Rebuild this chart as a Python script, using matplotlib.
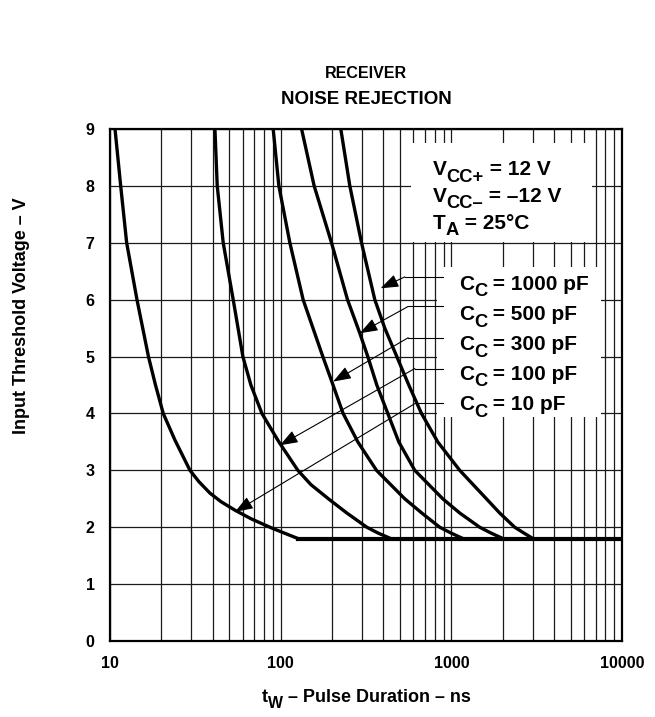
import matplotlib
matplotlib.use("Agg")
import matplotlib.pyplot as plt
from matplotlib.ticker import FixedLocator, NullFormatter
from matplotlib.patches import Rectangle
from matplotlib.transforms import IdentityTransform

plt.rcParams['font.family'] = ['Liberation Sans', 'DejaVu Sans']
plt.rcParams['font.weight'] = 'bold'

# ---------------- data (pulse duration ns, threshold V) ----------------
cc10_t = [10.70, 11.55, 12.52, 14.39, 16.80, 18.47, 20.51, 24.03, 29.41, 33.20, 38.50,
          44.66, 53.93, 66.92, 86.47, 104.4, 126.6]
cc10_v = [9.0, 8.0, 7.0, 6.0, 5.0, 4.5, 4.0, 3.53, 3.0, 2.8, 2.6, 2.45, 2.3, 2.15, 2.0,
          1.9, 1.8]

cc100_t = [41.19, 42.49, 46.06, 52.71, 60.06, 66.92, 77.64, 97.6, 126.1, 150.2, 194.1,
           244.1, 319.7, 370.7, 441.8]
cc100_v = [9.0, 8.0, 7.0, 6.0, 5.0, 4.5, 4.0, 3.5, 3.0, 2.75, 2.48, 2.25, 2.0, 1.9, 1.8]

cc300_t = [90.4, 97.6, 113.2, 135.4, 176.6, 199.4, 232.2, 283.1, 364.3, 533.4, 671.0,
           855.2, 992.0, 1171.0]
cc300_v = [9.0, 8.0, 7.0, 6.0, 5.0, 4.56, 4.0, 3.5, 3.0, 2.5, 2.25, 2.0, 1.9, 1.8]

cc500_t = [132.6, 157.1, 198.6, 246.4, 290.9, 324.0, 365.8, 424.3, 492.1, 610.6, 890.6,
           1120.0, 1466.0, 1701.0, 2008.0]
cc500_v = [9.0, 8.0, 7.0, 6.0, 5.41, 5.0, 4.5, 4.0, 3.5, 3.0, 2.5, 2.25, 2.0, 1.9, 1.8]

cc1000_t = [225.1, 254.2, 297.7, 356.1, 407.4, 479.0, 563.2, 668.3, 832.5, 1120.0,
            1605.0, 1920.0, 2350.0, 2654.0, 3008.0]
cc1000_v = [9.0, 8.0, 7.0, 6.0, 5.5, 5.0, 4.5, 4.0, 3.5, 3.0, 2.5, 2.25, 2.0, 1.9, 1.8]

floor_t = [126.6, 10000.0]
floor_v = [1.8, 1.8]

labels = ["1000 pF", "500 pF", "300 pF", "100 pF", "10 pF"]
label_base_v = [6.17, 5.64, 5.11, 4.59, 4.06]
lead_v = [6.40, 5.88, 5.33, 4.79, 4.19]
knee_t = [533, 558, 558, 611, 625]
tip_t = [385, 291, 203, 99, 54]
tip_v = [6.20, 5.41, 4.56, 3.44, 2.27]

x_ticks = [10, 100, 1000, 10000]
x_ticklabels = ["10", "100", "1000", "10000"]
y_ticks = list(range(0, 10))

# ---------------- figure ----------------
W, H, DPI = 655, 717, 100
fig = plt.figure(figsize=(W / DPI, H / DPI), dpi=DPI)
ax = fig.add_axes([110 / W, (H - 641) / H, 512 / W, 512 / H])
ax.set_xscale('log')
ax.set_xlim(10, 10000)
ax.set_ylim(0, 9)

minor = [m * 10 ** d for d in range(1, 4) for m in range(2, 10)]
ax.xaxis.set_major_locator(FixedLocator(x_ticks))
ax.xaxis.set_minor_locator(FixedLocator(minor))
ax.xaxis.set_minor_formatter(NullFormatter())
ax.set_xticks(x_ticks)
ax.set_xticklabels(x_ticklabels)
ax.set_yticks(y_ticks)
ax.tick_params(which='both', length=0)
ax.tick_params(axis='x', pad=11, labelsize=11.5)
ax.tick_params(axis='y', pad=11, labelsize=11.5)
for lab in ax.get_xticklabels() + ax.get_yticklabels():
    lab.set_fontweight('bold')
ax.set_axisbelow(True)
ax.grid(which='both', color='#1a1a1a', lw=0.9)
for s in ax.spines.values():
    s.set_linewidth(1.6)
    s.set_zorder(6)

# white boxes behind the annotations
ax.add_patch(Rectangle((578, 7.02), 6700 - 578, 8.75 - 7.02, facecolor='white',
                       edgecolor='none', zorder=1.5))
ax.add_patch(Rectangle((822, 3.94), 7500 - 822, 6.57 - 3.94, facecolor='white',
                       edgecolor='none', zorder=1.5))

# curves
for t, v in [(cc10_t, cc10_v), (cc100_t, cc100_v), (cc300_t, cc300_v),
             (cc500_t, cc500_v), (cc1000_t, cc1000_v)]:
    ax.plot(t, v, color='black', lw=2.4, solid_joinstyle='round', zorder=3)
ax.plot(floor_t, floor_v, color='black', lw=3.0, zorder=3)

# leaders
for i in range(5):
    ax.plot([knee_t[i], 891], [lead_v[i], lead_v[i]], color='black', lw=0.8, zorder=4)
    ax.annotate('', xy=(tip_t[i], tip_v[i]), xytext=(knee_t[i], lead_v[i]),
                arrowprops=dict(arrowstyle='-|>,head_length=1.1,head_width=0.4',
                                color='black', lw=0.8, shrinkA=0, shrinkB=0),
                zorder=4)

# ---------------- rich text helper ----------------
renderer = fig.canvas.get_renderer()


def rich(X, Y, pieces, fs, ha='left', sub_scale=0.88, sub_drop=6.5):
    arts, widths = [], []
    for s, sub in pieces:
        t = fig.text(0, 0, s, fontsize=fs * sub_scale if sub else fs, fontweight='bold',
                     transform=IdentityTransform(), va='baseline', ha='left', zorder=7)
        arts.append((t, sub))
        widths.append(t.get_window_extent(renderer).width)
    total = sum(widths)
    x = X - (total / 2 if ha == 'center' else 0)
    for (t, sub), w in zip(arts, widths):
        t.set_position((x, Y - (sub_drop if sub else 0)))
        x += w


def data_px(x, y):
    return ax.transData.transform((x, y))

fs_box = 15
X, Y = data_px(778, 8.19)
rich(X, Y, [("V", False), ("CC+", True), (" = 12 V", False)], fs_box)
X, Y = data_px(778, 7.72)
rich(X, Y, [("V", False), ("CC\u2013", True), (" = \u201312 V", False)], fs_box)
X, Y = data_px(778, 7.25)
rich(X, Y, [("T", False), ("A", True), (" = 25\u00b0C", False)], fs_box)

for lab, bv in zip(labels, label_base_v):
    X, Y = data_px(1104, bv)
    rich(X, Y, [("C", False), ("C", True), (" = " + lab, False)], fs_box)

# x label
rich(366, H - 702, [("t", False), ("W", True), (" \u2013 Pulse Duration \u2013 ns", False)], 13,
     ha='center', sub_drop=5.5)
# y label
fig.text(22 / W, 1 - 316 / H, "Input Threshold Voltage \u2013 V", rotation=90,
         ha='center', va='center', fontsize=13, fontweight='bold')
# titles
fig.text(366 / W, 1 - 74 / H, "RECEIVER", ha='center', va='center', fontsize=11.5,
         fontweight='bold')
fig.text(366 / W, 1 - 100 / H, "NOISE REJECTION", ha='center', va='center', fontsize=13.5,
         fontweight='bold')

fig.savefig("out.png", dpi=DPI)
